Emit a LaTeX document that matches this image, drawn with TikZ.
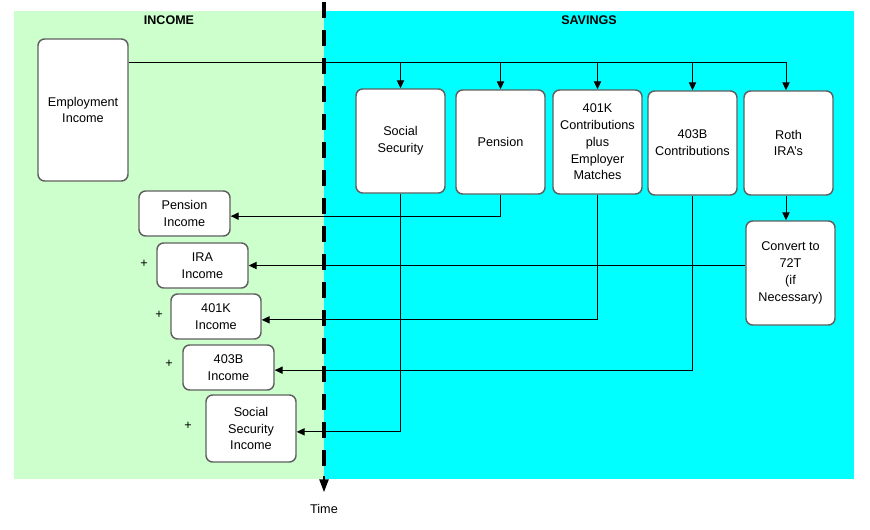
\documentclass[tikz,border=0pt]{standalone}
\usepackage{fontspec}
\setmainfont{Liberation Sans}
\usetikzlibrary{arrows.meta}
\definecolor{incgreen}{HTML}{CCFFCC}
\definecolor{savcyan}{HTML}{00FFFF}
\definecolor{boxedge}{HTML}{606060}
\tikzset{
  box/.style 2 args={draw=boxedge, line width=1.1pt, fill=white, rounded corners=5pt,
    minimum width=#1*0.75pt, minimum height=#2*0.75pt, inner sep=0pt, align=center,
    font=\fontsize{9.5pt}{12.6pt}\selectfont},
  arr/.style={line width=0.75pt, -{Triangle[length=6pt,width=5.5pt]}},
  conn/.style={line width=0.75pt},
  title/.style={font=\fontsize{9.4pt}{11pt}\selectfont\bfseries},
  plain/.style={font=\fontsize{9.5pt}{11pt}\selectfont}
}
\begin{document}
\begin{tikzpicture}[x=0.75pt,y=-0.75pt]
\useasboundingbox (0,0) rectangle (870,529);
\fill[incgreen] (14,11) rectangle (324,479);
\fill[savcyan] (324,11) rectangle (854,479);
\node[title] (inc) at (169,20) {INCOME};
\node[title] (sav) at (589,20) {SAVINGS};

\node[box={90}{142}] (emp) at (83,110) {Employment\\Income};
\node[box={89}{104}] (ss) at (400.5,141) {Social\\Security};
\node[box={89}{104}] (pen) at (500.5,142) {Pension};
\node[box={89}{104}] (k401) at (597.5,142) {401K\\Contributions\\plus\\Employer\\Matches};
\node[box={89}{104}] (b403) at (692.5,143) {403B\\Contributions};
\node[box={89}{104}] (roth) at (788.5,143) {Roth\\IRA's};
\node[box={89}{104}] (conv) at (790.5,273) {Convert to\\72T\\(if\\Necessary)};

\node[box={91}{45}] (pinc) at (184.5,213.5) {Pension\\Income};
\node[box={91}{45}] (irainc) at (202.5,265.5) {IRA\\Income};
\node[box={90}{45}] (kinc) at (216,316.5) {401K\\Income};
\node[box={91}{45}] (binc) at (228.5,367.5) {403B\\Income};
\node[box={90}{67}] (ssinc) at (251,428.5) {Social\\Security\\Income};

\node[plain] (p1) at (144,264) {+};
\node[plain] (p2) at (159,315) {+};
\node[plain] (p3) at (169,364) {+};
\node[plain] (p4) at (188,426) {+};

\coordinate (bus) at (786,62);
\draw[conn] (emp.east |- bus) -- (bus);
\draw[arr] (ss.north |- bus) -- (ss.north);
\draw[arr] (pen.north |- bus) -- (pen.north);
\draw[arr] (k401.north |- bus) -- (k401.north);
\draw[arr] (b403.north |- bus) -- (b403.north);
\draw[arr] (bus) -- (bus |- roth.north);
\draw[arr] (roth.south -| bus) -- (bus |- conv.north);

\draw[arr] (pen.south) |- ([yshift=-2pt]pinc.east);
\draw[arr] (conv.west |- irainc.east) -- (irainc.east);
\draw[arr] (k401.south) |- ([yshift=-2.5pt]kinc.east);
\draw[arr] (b403.south) |- ([yshift=-2pt]binc.east);
\draw[arr] (ss.south) |- ([yshift=-2.5pt]ssinc.east);

\node[plain] (time) at (324,509) {Time};
\coordinate (ttop) at (324,2);
\coordinate (tbot) at (324,476);
\coordinate (ttip) at (324,492);
\draw[line width=3pt, dash pattern=on 12pt off 9pt] (ttop) -- (tbot);
\draw[line width=1pt, -{Triangle[length=9.5pt,width=7pt]}] (tbot) -- (ttip);
\end{tikzpicture}
\end{document}
